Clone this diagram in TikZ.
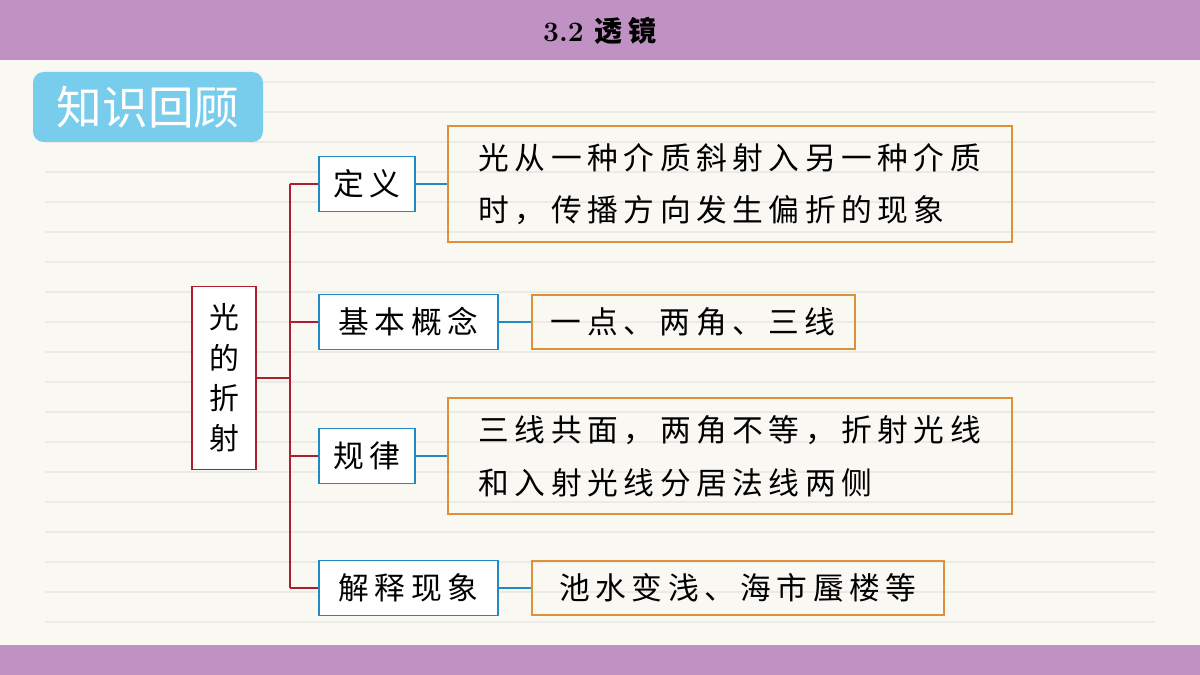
\documentclass[tikz,border=0pt]{standalone}
\usepackage{fontspec}
\newfontfamily\cjk[LetterSpace=18]{Noto Sans CJK SC}
\newfontfamily\cjktight{Noto Sans CJK SC}
\usetikzlibrary{positioning}
\definecolor{barPurple}{RGB}{192,145,195}
\definecolor{paperCream}{RGB}{250,248,242}
\definecolor{ruleGray}{RGB}{236,234,230}
\definecolor{tagBlue}{RGB}{120,205,236}
\definecolor{rootRed}{RGB}{170,30,45}
\definecolor{childBlue}{RGB}{30,140,195}
\definecolor{leafOrange}{RGB}{222,145,55}
\tikzset{
  rootbox/.style={draw=rootRed, fill=white, line width=1pt, align=center, font=\cjktight\fontsize{17}{23}\selectfont, minimum width=1.28cm, minimum height=3.66cm},
  childbox/.style={draw=childBlue, fill=white, line width=1pt, anchor=west, font=\cjk\fontsize{17.5}{20}\selectfont, minimum height=1.1cm, inner xsep=0.2cm},
  leafbox/.style={draw=leafOrange, line width=1pt, anchor=west, align=left, font=\cjk\fontsize{17.5}{30}\selectfont, inner xsep=0.3cm, minimum height=1.08cm},
  redline/.style={draw=rootRed, line width=1pt},
  blueline/.style={draw=childBlue, line width=1pt}
}
\begin{document}
\begin{tikzpicture}[x=0.02cm, y=-0.02cm]
  \fill[paperCream] (0,0) rectangle (1200,675);
  \useasboundingbox (0,0) rectangle (1200,675);
  \foreach \yy in {82,112,...,632} \draw[ruleGray, line width=0.6pt] (45,\yy) -- (1155,\yy);
  \fill[barPurple] (0,0) rectangle (1200,60);
  \fill[barPurple] (0,645) rectangle (1200,675);
  \node[font=\bfseries\fontsize{16}{18}\selectfont] (title) at (600,31) {3.2 {\cjktight 透 镜}};
  \fill[tagBlue, rounded corners=6pt] (33,72) rectangle (263,142);
  \node[text=white, font=\cjktight\fontsize{26}{28}\selectfont] (tag) at (148,107) {知识回顾};

  \node[rootbox] (root) at (224,378) {光\\的\\折\\射};
  \node[childbox, minimum width=1.92cm] (def) at (318,184) {定义};
  \node[childbox, minimum width=3.58cm] (concept) at (318,322) {基本概念};
  \node[childbox, minimum width=1.92cm] (law) at (318,456) {规律};
  \node[childbox, minimum width=3.58cm] (explain) at (318,588) {解释现象};

  \node[leafbox, minimum width=11.28cm, minimum height=2.32cm] (defText) at (447,184) {光从一种介质斜射入另一种介质\\时，传播方向发生偏折的现象};
  \node[leafbox, minimum width=6.46cm] (conceptText) at (531,322) {一点、两角、三线};
  \node[leafbox, minimum width=11.28cm, minimum height=2.32cm] (lawText) at (447,456) {三线共面，两角不等，折射光线\\和入射光线分居法线两侧};
  \node[leafbox, minimum width=8.24cm] (explainText) at (531,588) {池水变浅、海市蜃楼等};

  \coordinate (trunk) at (290,0);
  \draw[redline] (root.east) -- (root.east -| trunk);
  \draw[redline] (def.west -| trunk) -- (explain.west -| trunk);
  \foreach \c in {def,concept,law,explain} \draw[redline] (\c.west -| trunk) -- (\c.west);
  \draw[blueline] (def) -- (defText);
  \draw[blueline] (concept) -- (conceptText);
  \draw[blueline] (law) -- (lawText);
  \draw[blueline] (explain) -- (explainText);
\end{tikzpicture}
\end{document}
